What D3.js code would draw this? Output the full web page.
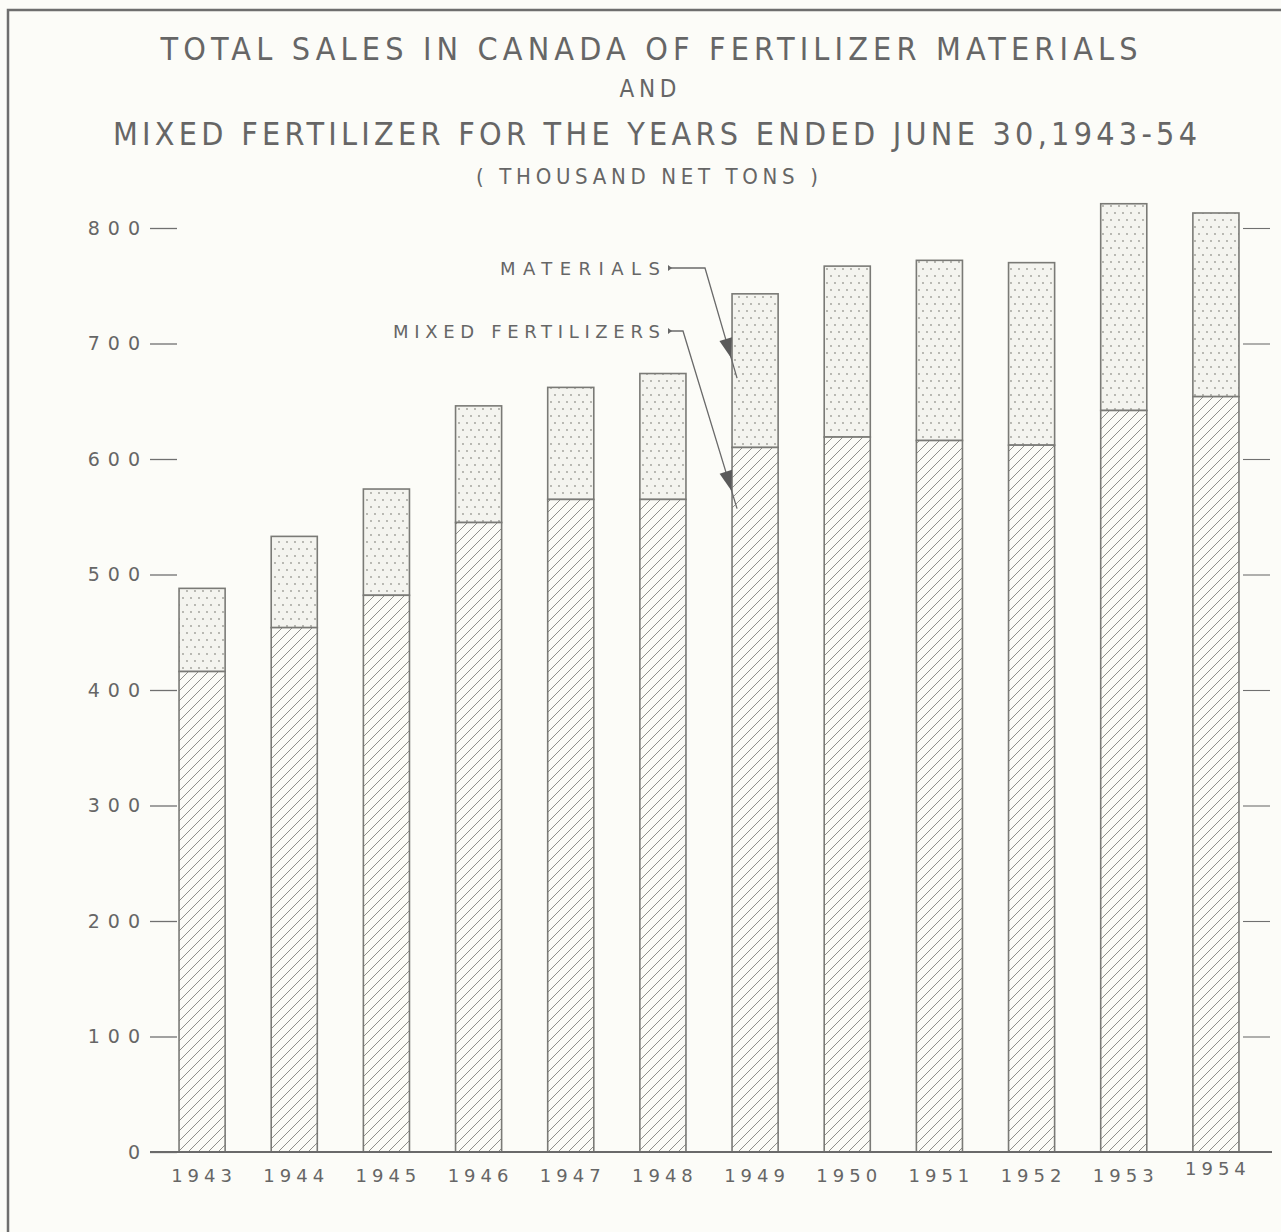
<!DOCTYPE html>
<html>
<head>
<meta charset="utf-8">
<script src="https://cdn.jsdelivr.net/npm/d3@7"></script>
<style>
  body { margin: 0; background: #fcfcf8; }
  svg { display: block; }
</style>
</head>
<body>
<div id="chart"></div>
<script>
// Data (thousand net tons)
var years = ["1943","1944","1945","1946","1947","1948","1949","1950","1951","1952","1953","1954"];
var mixed = [416, 454, 482, 545, 565, 565, 610, 619, 616, 612, 642, 654];
var totals = [488, 533, 574, 646, 662, 674, 743, 767, 772, 770, 821, 813];
var yTicks = [0, 100, 200, 300, 400, 500, 600, 700, 800];
var titleLines = [
    "TOTAL SALES IN CANADA OF FERTILIZER MATERIALS",
    "AND",
    "MIXED FERTILIZER FOR THE YEARS ENDED JUNE 30,1943-54",
    "( THOUSAND NET TONS )"
];
// annotation labels and the value each arrow points to on the 1949 bar
var noteLabels = ["MATERIALS", "MIXED FERTILIZERS"];
var noteTargets = [670, 557];

var W = 1281, H = 1232;
var ink = "#707070";

var svg = d3.select("#chart").append("svg")
    .attr("width", W)
    .attr("height", H);

svg.append("rect").attr("width", W).attr("height", H).attr("fill", "#fcfcf8");

// patterns
var defs = svg.append("defs");
var hatch = defs.append("pattern")
    .attr("id", "hatch")
    .attr("patternUnits", "userSpaceOnUse")
    .attr("width", 10).attr("height", 10);
hatch.append("rect").attr("width", 10).attr("height", 10).attr("fill", "#fbfbf6");
hatch.append("path")
    .attr("d", "M-1,11 L11,-1 M-6,6 L6,-6 M4,16 L16,4")
    .attr("stroke", "#8e8e8a").attr("stroke-width", 1);

var dots = defs.append("pattern")
    .attr("id", "dots")
    .attr("patternUnits", "userSpaceOnUse")
    .attr("width", 16).attr("height", 14);
dots.append("rect").attr("width", 16).attr("height", 14).attr("fill", "#f4f4ef");
[[3,3],[11,3],[7,10],[15,10]].forEach(function(p) {
    dots.append("circle").attr("cx", p[0]).attr("cy", p[1]).attr("r", 0.9).attr("fill", "#9c9c96");
});

// frame (left and top edges of the page border)
svg.append("path")
    .attr("d", "M8," + H + " L8,10 L" + W + ",10")
    .attr("fill", "none").attr("stroke", "#6e6e6e").attr("stroke-width", 2.5);

// title
var titleX = [649, 648, 655, 647];
var titleY = [60, 97, 145, 184];
var titleSize = [32, 24, 32, 22];
var titleW = [977, 57, 1084, 342];
svg.selectAll("text.title")
    .data(titleLines)
    .enter().append("text")
    .attr("class", "title")
    .attr("x", function(d, i) { return titleX[i]; })
    .attr("y", function(d, i) { return titleY[i]; })
    .attr("text-anchor", "middle")
    .attr("textLength", function(d, i) { return titleW[i]; })
    .attr("lengthAdjust", "spacing")
    .style("font-family", "'DejaVu Sans Condensed', 'DejaVu Sans', sans-serif")
    .style("font-weight", "300")
    .style("font-size", function(d, i) { return titleSize[i] + "px"; })
    .style("fill", "#666")
    .text(function(d) { return d; });

// scales
var x = d3.scaleBand()
    .domain(years)
    .range([156, 1262])
    .paddingInner(0.5)
    .paddingOuter(0.25);

var y = d3.scaleLinear()
    .domain([0, 800])
    .range([1152, 228]);

// left ticks
var leftAxis = svg.append("g")
    .attr("transform", "translate(177,0)")
    .call(d3.axisLeft(y).tickValues(yTicks).tickSize(27).tickPadding(2).tickFormat(d3.format("d")));
leftAxis.select(".domain").remove();
leftAxis.selectAll("line").attr("stroke", ink).attr("stroke-width", 1.3);
leftAxis.selectAll("text")
    .style("font-family", "'DejaVu Sans', sans-serif")
    .style("font-size", "19px")
    .style("letter-spacing", "8px")
    .style("fill", "#666");

// right ticks
var rightAxis = svg.append("g")
    .attr("transform", "translate(1243,0)")
    .call(d3.axisRight(y).tickValues(yTicks.slice(1)).tickSize(27).tickFormat(""));
rightAxis.select(".domain").remove();
rightAxis.selectAll("line").attr("stroke", ink).attr("stroke-width", 1.1);

// bars: mixed fertilizer (hatched) and materials (dotted) stacked
var bars = svg.append("g");
bars.selectAll("rect.mat")
    .data(years)
    .enter().append("rect")
    .attr("class", "mat")
    .attr("x", function(d) { return x(d); })
    .attr("width", x.bandwidth())
    .attr("y", function(d, i) { return y(totals[i]); })
    .attr("height", function(d, i) { return y(mixed[i]) - y(totals[i]); })
    .attr("fill", "url(#dots)")
    .attr("stroke", "#7a7a76").attr("stroke-width", 1.6);

bars.selectAll("rect.mix")
    .data(years)
    .enter().append("rect")
    .attr("class", "mix")
    .attr("x", function(d) { return x(d); })
    .attr("width", x.bandwidth())
    .attr("y", function(d, i) { return y(mixed[i]); })
    .attr("height", function(d, i) { return y(0) - y(mixed[i]); })
    .attr("fill", "url(#hatch)")
    .attr("stroke", "#7a7a76").attr("stroke-width", 1.6);

// baseline
svg.append("line")
    .attr("x1", 150).attr("x2", 1272)
    .attr("y1", y(0)).attr("y2", y(0))
    .attr("stroke", "#6a6a6a").attr("stroke-width", 2);

// x labels
svg.selectAll("text.year")
    .data(years)
    .enter().append("text")
    .attr("class", "year")
    .attr("x", function(d) { return x(d) + x.bandwidth() / 2 + 2; })
    .attr("y", function(d, i) { return i == 11 ? 1175 : 1182; })
    .attr("text-anchor", "middle")
    .style("font-family", "'DejaVu Sans', sans-serif")
    .style("font-size", "18px")
    .style("letter-spacing", "5px")
    .style("fill", "#666")
    .text(function(d) { return d; });

// annotations
var noteText = [{x: 660, y: 268, w: 160}, {x: 660, y: 331, w: 267}];
var noteElbow = [705, 683];
var tipX = x("1949") + 5;
var note = svg.append("g");
noteLabels.forEach(function(label, i) {
    var ty = noteText[i].y;
    note.append("text")
        .attr("x", noteText[i].x - noteText[i].w)
        .attr("y", ty + 7)
        .attr("textLength", noteText[i].w)
        .attr("lengthAdjust", "spacing")
        .style("font-family", "'DejaVu Sans', sans-serif")
        .style("font-size", "18px")
        .style("fill", "#666")
        .text(label);
    var x0 = noteText[i].x + 8, x1 = noteElbow[i];
    var x2 = tipX, y2 = y(noteTargets[i]);
    // little tail mark
    note.append("path")
        .attr("d", "M" + x0 + "," + (ty - 3) + " L" + (x0 + 4) + "," + ty + " L" + x0 + "," + (ty + 3) + "Z")
        .attr("fill", "#666");
    note.append("path")
        .attr("d", "M" + x0 + "," + ty + " L" + x1 + "," + ty + " L" + x2 + "," + y2)
        .attr("fill", "none").attr("stroke", "#6a6a6a").attr("stroke-width", 1.3);
    // arrowhead along the slanted line
    var ang = Math.atan2(y2 - ty, x2 - x1);
    var f = i == 0 ? 0.82 : 0.9;
    var hx = x1 + (x2 - x1) * f, hy = ty + (y2 - ty) * f;
    var L = 20, Wd = 6.5;
    var bx = hx - L * Math.cos(ang), by = hy - L * Math.sin(ang);
    note.append("path")
        .attr("d", "M" + hx + "," + hy +
            " L" + (bx - Wd * Math.sin(ang)) + "," + (by + Wd * Math.cos(ang)) +
            " L" + (bx + Wd * Math.sin(ang)) + "," + (by - Wd * Math.cos(ang)) + "Z")
        .attr("fill", "#5a5a5a");
});
</script>
</body>
</html>
